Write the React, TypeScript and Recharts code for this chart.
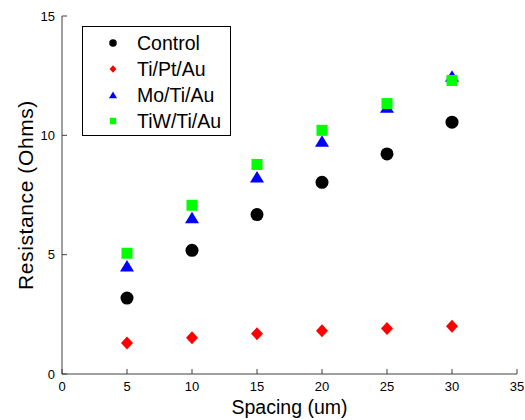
import React from "react";
import { ScatterChart, Scatter, XAxis, YAxis, Label, Legend } from "recharts";

const spacing = [5, 10, 15, 20, 25, 30];
const control = [3.18, 5.18, 6.68, 8.03, 9.22, 10.55];
const tiPtAu = [1.3, 1.52, 1.69, 1.81, 1.91, 2.0];
const moTiAu = [4.52, 6.55, 8.25, 9.75, 11.18, 12.48];
const tiwTiAu = [5.06, 7.07, 8.78, 10.21, 11.33, 12.3];

const xTicks = [0, 5, 10, 15, 20, 25, 30, 35];
const yTicks = [0, 5, 10, 15];

const FONT = "'Liberation Sans', Arial, Helvetica, sans-serif";
const AXIS = "#404040";

type Kind = "circle" | "diamond" | "triangle" | "square";

const series: { name: string; values: number[]; kind: Kind; color: string }[] = [
  { name: "Control", values: control, kind: "circle", color: "#000000" },
  { name: "Ti/Pt/Au", values: tiPtAu, kind: "diamond", color: "#ff0000" },
  { name: "Mo/Ti/Au", values: moTiAu, kind: "triangle", color: "#0000ff" },
  { name: "TiW/Ti/Au", values: tiwTiAu, kind: "square", color: "#00ff00" },
];

// s = scale factor (1 for plot markers, smaller for legend)
function marker(kind: Kind, cx: number, cy: number, color: string, s = 1) {
  if (kind === "circle") return <circle cx={cx} cy={cy} r={6.5 * s} fill={color} />;
  if (kind === "diamond")
    return <polygon points={`${cx},${cy - 6.5 * s} ${cx + 6 * s},${cy} ${cx},${cy + 6.5 * s} ${cx - 6 * s},${cy}`} fill={color} />;
  if (kind === "triangle")
    return <polygon points={`${cx},${cy - 6 * s} ${cx + 7 * s},${cy + 5.5 * s} ${cx - 7 * s},${cy + 5.5 * s}`} fill={color} />;
  return <rect x={cx - 5.5 * s} y={cy - 5.5 * s} width={11 * s} height={11 * s} fill={color} />;
}

const XTick = (props: any) => {
  const { x, y, payload } = props;
  return (
    <g>
      <line x1={x} x2={x} y1={y - 8} y2={y - 13} stroke={AXIS} />
      <text x={x} y={y} dy="0.71em" textAnchor="middle" fontSize={13} fontFamily={FONT} fill="#000">{payload.value}</text>
    </g>
  );
};

const YTick = (props: any) => {
  const { x, y, payload } = props;
  return (
    <g>
      <line x1={x + 7} x2={x + 12} y1={y} y2={y} stroke={AXIS} />
      <text x={x} y={y} dy="0.35em" textAnchor="end" fontSize={13} fontFamily={FONT} fill="#000">{payload.value}</text>
    </g>
  );
};

const LegendBox = () => (
  <div style={{ width: 147, height: 108, border: "1.5px solid #000", background: "#fff", position: "relative" }}>
    {series.map((s, i) => (
      <div key={s.name} style={{ position: "absolute", left: 0, top: 3 + i * 26, height: 26, display: "flex", alignItems: "center" }}>
        <svg width={54} height={26} style={{ display: "block" }}>
          {marker(s.kind, 30, 13, s.color, 0.58)}
        </svg>
        <span style={{ fontFamily: FONT, fontSize: 19.5, color: "#000", lineHeight: "26px", whiteSpace: "nowrap" }}>{s.name}</span>
      </div>
    ))}
  </div>
);

export default function App() {
  return (
    <div style={{ position: "absolute", left: 0, top: 0, width: 525, height: 420, background: "#fff" }}>
      <ScatterChart width={525} height={420} margin={{ top: 16, right: 8, bottom: 0, left: 0 }}>
        <XAxis
          dataKey="x" type="number" domain={[0, 35]} ticks={xTicks} height={46}
          axisLine={{ stroke: AXIS }} tickLine={false} tickSize={0} tickMargin={8}
          tick={<XTick />} interval={0} allowDataOverflow
        >
          <Label
            content={(p: any) => {
              const vb = p.viewBox;
              return (
                <text x={vb.x + vb.width / 2} y={vb.y + 40} textAnchor="middle" fontSize={19.5} fontFamily={FONT} fill="#000">
                  Spacing (um)
                </text>
              );
            }}
          />
        </XAxis>
        <YAxis
          dataKey="y" type="number" domain={[0, 15]} ticks={yTicks} width={62}
          axisLine={{ stroke: AXIS }} tickLine={false} tickSize={0} tickMargin={7}
          tick={<YTick />} interval={0} allowDataOverflow
        >
          <Label
            content={(p: any) => {
              const vb = p.viewBox;
              const cx = vb.x + 33;
              const cy = vb.y + vb.height / 2;
              return (
                <text x={cx} y={cy} transform={`rotate(-90 ${cx} ${cy})`} textAnchor="middle" fontSize={21} letterSpacing={0.6} fontFamily={FONT} fill="#000">
                  Resistance (Ohms)
                </text>
              );
            }}
          />
        </YAxis>
        <Legend
          layout="horizontal" verticalAlign="middle" align="center"
          wrapperStyle={{ left: 82, top: 26, width: 150, height: 111 }}
          content={() => <LegendBox />}
        />
        {series.map(s => (
          <Scatter
            key={s.name}
            name={s.name}
            data={spacing.map((x, i) => ({ x, y: s.values[i] }))}
            fill={s.color}
            isAnimationActive={false}
            shape={(p: any) => marker(s.kind, p.cx, p.cy, s.color)}
          />
        ))}
      </ScatterChart>
    </div>
  );
}
